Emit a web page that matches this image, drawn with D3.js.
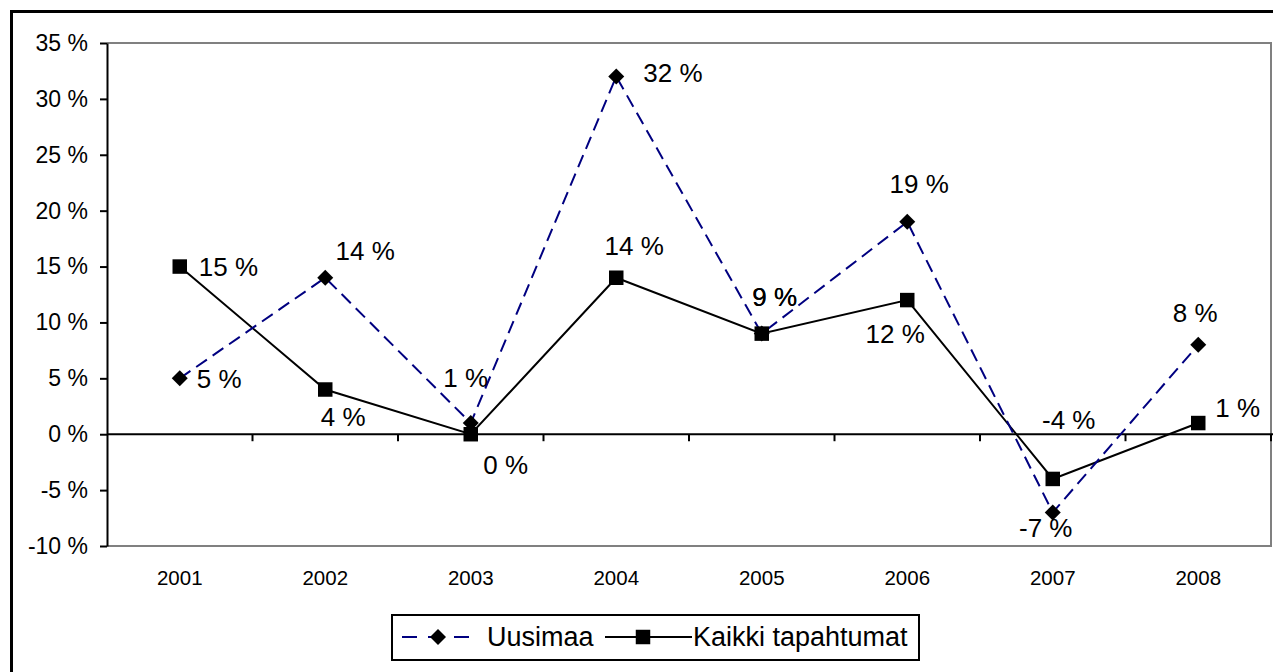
<!DOCTYPE html>
<html>
<head>
<meta charset="utf-8">
<script src="https://cdn.jsdelivr.net/npm/d3@7"></script>
<style>
  body { margin: 0; background: #fff; }
  svg { display: block; font-family: Arial, "Liberation Sans", sans-serif; }
</style>
</head>
<body>
<div id="chart"></div>
<script>
// data
const years = ['2001', '2002', '2003', '2004', '2005', '2006', '2007', '2008'];
const uusimaa = [5, 14, 1, 32, 9, 19, -7, 8];
const kaikki = [15, 4, 0, 14, 9, 12, -4, 1];
const yTicks = [-10, -5, 0, 5, 10, 15, 20, 25, 30, 35];

// label placement (offset of label from its point: dx, baseline dy, anchor)
const uusimaaLabels = [
  [17, 10, 'start'], [40, -18, 'middle'], [-5, -36, 'middle'], [27, 5, 'start'],
  [13, -28, 'middle'], [12, -29, 'middle'], [-7, 25, 'middle'], [-3, -23, 'middle'],
];
const kaikkiLabels = [
  [19, 9, 'start'], [18, 36, 'middle'], [35, 40, 'middle'], [18, -23, 'middle'],
  [13, -28, 'middle'], [-12, 43, 'middle'], [16, -50, 'middle'], [17, -6, 'start'],
];

const W = 1273, H = 672;
const plot = { left: 107, right: 1271, top: 43, bottom: 546 };

const svg = d3.select('#chart').append('svg')
  .attr('width', W).attr('height', H);

// outer chart border (only top and left visible)
svg.append('path')
  .attr('d', `M11.5,${H + 5}V11.5H${W + 5}`)
  .attr('fill', 'none')
  .attr('stroke', '#000')
  .attr('stroke-width', 3);

const x = d3.scaleBand().domain(years).range([plot.left, plot.right]);
const y = d3.scaleLinear().domain([-10, 35]).range([plot.bottom, plot.top]);
const cx = (d) => x(d) + x.bandwidth() / 2;

// plot area frame (gray top / right / bottom)
svg.append('path')
  .attr('d', `M${plot.left},${plot.top}H${plot.right}V${plot.bottom}H${plot.left}`)
  .attr('fill', 'none')
  .attr('stroke', '#808080')
  .attr('stroke-width', 2);

// Y axis
const yAxis = svg.append('g')
  .attr('transform', `translate(${plot.left},0)`)
  .call(d3.axisLeft(y).tickValues(yTicks).tickSize(7).tickSizeOuter(0)
    .tickFormat((d) => `${d} %`));
yAxis.select('.domain').attr('stroke-width', 2);
yAxis.selectAll('.tick line').attr('stroke-width', 2);
yAxis.selectAll('.tick text')
  .attr('x', -19)
  .attr('font-size', 23)
  .attr('font-family', 'Arial, "Liberation Sans", sans-serif')
  .attr('fill', '#000');

// X axis along 0 %
const xAxis = svg.append('g')
  .attr('transform', `translate(0,${y(0)})`);
xAxis.append('line')
  .attr('x1', plot.left).attr('x2', W)
  .attr('stroke', '#000').attr('stroke-width', 2);
xAxis.selectAll('.cat-tick')
  .data(years)
  .enter()
  .append('line')
  .attr('class', 'cat-tick')
  .attr('x1', (d) => x(d) + x.bandwidth())
  .attr('x2', (d) => x(d) + x.bandwidth())
  .attr('y1', 0).attr('y2', 7)
  .attr('stroke', '#000').attr('stroke-width', 2);

// category labels below plot
svg.append('g')
  .selectAll('text')
  .data(years)
  .enter()
  .append('text')
  .attr('x', cx)
  .attr('y', plot.bottom + 39)
  .attr('text-anchor', 'middle')
  .attr('font-size', 20.5)
  .text((d) => d);

const line = d3.line()
  .x((d, i) => cx(years[i]))
  .y((d) => y(d));

// Kaikki tapahtumat
svg.append('path')
  .datum(kaikki)
  .attr('d', line)
  .attr('fill', 'none')
  .attr('stroke', '#000')
  .attr('stroke-width', 2);

// Uusimaa
svg.append('path')
  .datum(uusimaa)
  .attr('d', line)
  .attr('fill', 'none')
  .attr('stroke', '#000080')
  .attr('stroke-width', 2)
  .attr('stroke-dasharray', '13,7');

// diamond = square turned 45 degrees
const diamond = d3.symbol().type(d3.symbolSquare).size(128);
const square = d3.symbol().type(d3.symbolSquare).size(210);

svg.append('g')
  .selectAll('path')
  .data(kaikki)
  .enter()
  .append('path')
  .attr('transform', (d, i) => `translate(${cx(years[i])},${y(d)})`)
  .attr('d', square)
  .attr('fill', '#000');

svg.append('g')
  .selectAll('path')
  .data(uusimaa)
  .enter()
  .append('path')
  .attr('transform', (d, i) => `translate(${cx(years[i])},${y(d)}) rotate(45)`)
  .attr('d', diamond)
  .attr('fill', '#000');

// data labels
function labels(values, offsets) {
  svg.append('g')
    .selectAll('text')
    .data(values)
    .enter()
    .append('text')
    .attr('x', (d, i) => cx(years[i]) + offsets[i][0])
    .attr('y', (d, i) => y(d) + offsets[i][1])
    .attr('text-anchor', (d, i) => offsets[i][2])
    .attr('font-size', 26)
    .text((d) => `${d} %`);
}
labels(kaikki, kaikkiLabels);
labels(uusimaa, uusimaaLabels);

// legend
const legend = svg.append('g').attr('transform', 'translate(392,615)');
legend.append('rect')
  .attr('width', 527).attr('height', 45)
  .attr('fill', '#fff')
  .attr('stroke', '#000').attr('stroke-width', 2);

legend.append('line')
  .attr('x1', 10).attr('x2', 81).attr('y1', 22).attr('y2', 22)
  .attr('stroke', '#000080').attr('stroke-width', 2)
  .attr('stroke-dasharray', '15,11');
legend.append('path')
  .attr('transform', 'translate(46,22) rotate(45)')
  .attr('d', diamond).attr('fill', '#000');
legend.append('text')
  .attr('x', 95).attr('y', 31)
  .attr('font-size', 27)
  .text('Uusimaa');

legend.append('line')
  .attr('x1', 213).attr('x2', 300).attr('y1', 22).attr('y2', 22)
  .attr('stroke', '#000').attr('stroke-width', 2);
legend.append('path')
  .attr('transform', 'translate(251,22)')
  .attr('d', square).attr('fill', '#000');
legend.append('text')
  .attr('x', 301).attr('y', 31)
  .attr('font-size', 27)
  .text('Kaikki tapahtumat');
</script>
</body>
</html>
